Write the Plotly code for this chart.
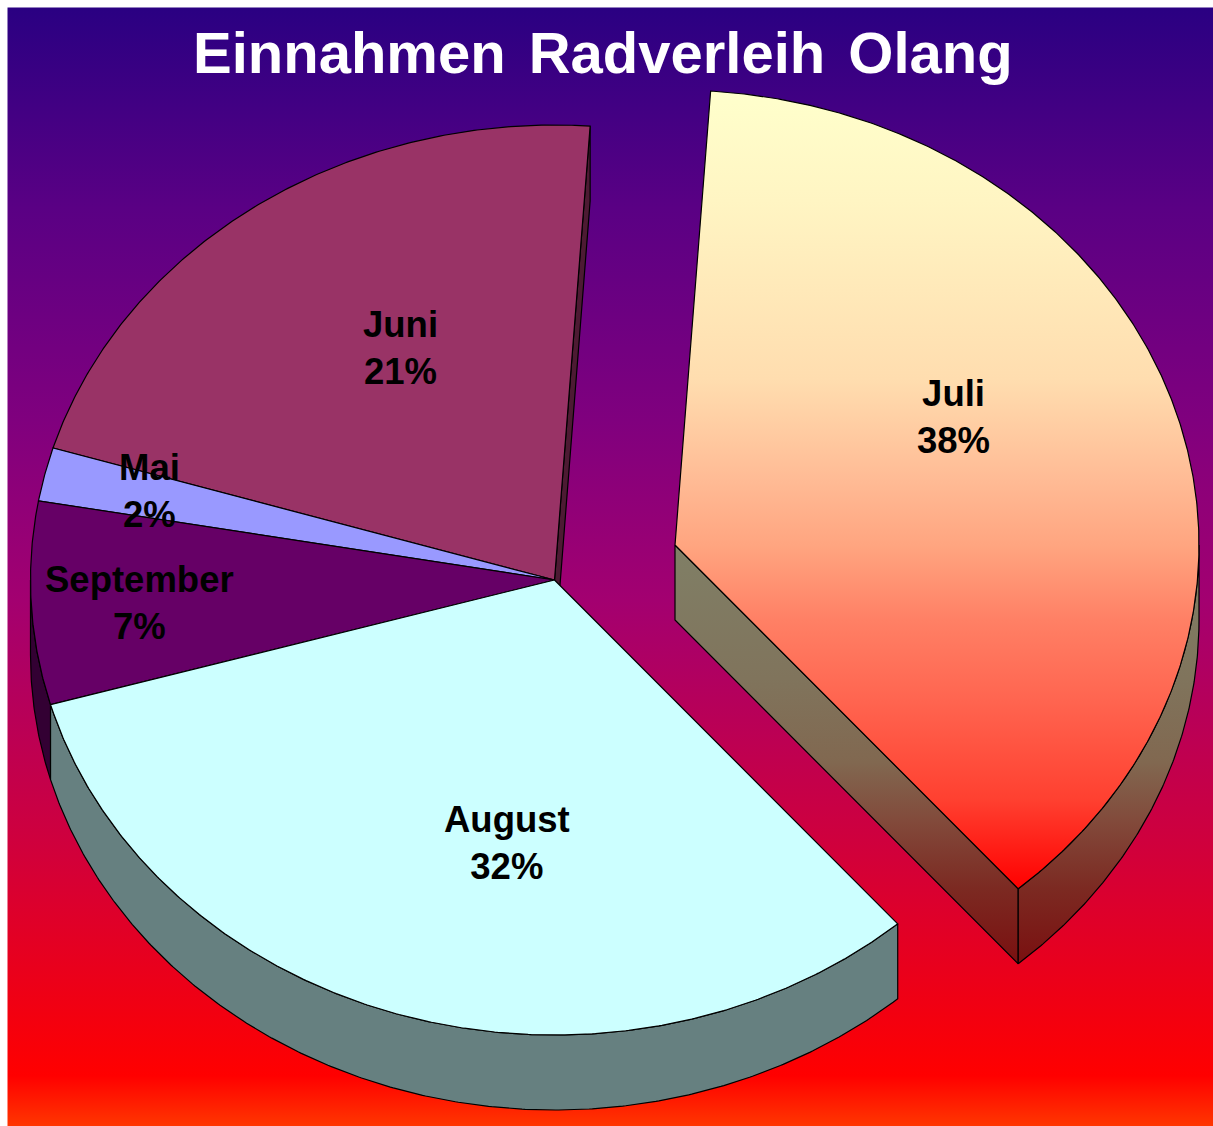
import numpy as np
import plotly.graph_objects as go

# Data
months = ["Juli", "August", "September", "Mai", "Juni"]
shares = [37.55, 31.95, 7.2, 1.9, 21.4]
title_words = ["Einnahmen", "Radverleih", "Olang"]

# Styles / layout
W, H = 1213, 1126
top_colors = ["#FFFFCC", "#CCFFFF", "#660066", "#9999FF", "#993366"]
wall_colors = ["#806F66", "#668080", "#330033", "#4D4D80", "#4D1A33"]
START = 3.9
RX, RY, DEPTH = 524, 455, 75
CENTER = (554.5, 580)
JULI_CENTER = (675, 545)
label_pos = [(953, 417), (507, 843), (139, 603), (149, 491), (400, 348)]
bg_scale = [[0.0, "#2A0082"], [0.18, "#5A0084"], [0.37, "#80007E"], [0.53, "#A30070"],
            [0.75, "#D0003C"], [0.955, "#FF0000"], [1.0, "#FF3600"]]
juli_scale = [[0.0, "#FFFFCC"], [0.137, "#FFF5C3"], [0.362, "#FFDDAF"], [0.487, "#FFBB95"],
              [0.569, "#FFA580"], [0.663, "#FF8065"], [0.763, "#FF6550"], [0.888, "#FF4030"],
              [1.0, "#FF0000"]]
juli_wall_scale = [[0.0, "#807F66"], [0.32, "#80745C"], [0.52, "#816850"], [0.66, "#824A3B"],
                   [0.82, "#7C2A22"], [1.0, "#7A1010"]]


def arc(c, a0, a1, dy=0.0):
    t = np.radians(np.linspace(a0, a1, max(int(abs(a1 - a0) * 3), 2)))
    return c[0] + RX * np.sin(t), c[1] - RY * np.cos(t) + dy


def poly(fig, x, y, fill=None, grad=None):
    x = np.append(x, x[0])
    y = np.append(y, y[0])
    kw = dict(fillgradient=grad) if grad else dict(fillcolor=fill)
    fig.add_trace(go.Scatter(x=x, y=y, mode="lines", fill="toself",
                             line=dict(color="black", width=1.2),
                             hoverinfo="skip", showlegend=False, **kw))


def outer_wall(fig, c, a0, a1, fill=None, grad=None):
    x0, y0 = arc(c, a0, a1)
    x1, y1 = arc(c, a1, a0, DEPTH)
    poly(fig, np.r_[x0, x1], np.r_[y0, y1], fill, grad)


def edge_wall(fig, c, a, fill=None, grad=None):
    xr, yr = arc(c, a, a + 1e-6)
    xr, yr = xr[0], yr[0]
    poly(fig, np.array([c[0], xr, xr, c[0]]),
         np.array([c[1], yr, yr + DEPTH, c[1] + DEPTH]), fill, grad)


def sector(fig, c, a0, a1, fill=None, grad=None):
    xa, ya = arc(c, a0, a1)
    poly(fig, np.r_[c[0], xa], np.r_[c[1], ya], fill, grad)


angles = START + np.cumsum([0] + shares) / sum(shares) * 360
fig = go.Figure()

# background
fig.add_trace(go.Scatter(
    x=[7.5, W, W, 7.5, 7.5], y=[7.5, 7.5, H, H, 7.5], mode="lines", fill="toself",
    line=dict(width=0), hoverinfo="skip", showlegend=False,
    fillgradient=dict(type="vertical", colorscale=bg_scale, start=7.5, stop=H)))

# main pie walls (Juni cut face, then front rim)
edge_wall(fig, CENTER, angles[5], fill=wall_colors[4])
outer_wall(fig, CENTER, angles[2], 270, fill=wall_colors[2])
outer_wall(fig, CENTER, angles[1], angles[2], fill=wall_colors[1])
# main pie tops
for i in (4, 3, 2, 1):
    sector(fig, CENTER, angles[i], angles[i + 1], fill=top_colors[i])

# exploded Juli slice
jy0, jy1 = JULI_CENTER[1], CENTER[1] + 383
wall_grad = dict(type="vertical", start=jy0, stop=jy1, colorscale=juli_wall_scale)
edge_wall(fig, JULI_CENTER, angles[1], grad=wall_grad)
outer_wall(fig, JULI_CENTER, 90, angles[1], grad=wall_grad)
sector(fig, JULI_CENTER, angles[0], angles[1],
       grad=dict(type="vertical", start=91, stop=889, colorscale=juli_scale))

wide_space = '<span style="font-size:83px"> </span>'
annotations = [dict(x=602.5, y=44, text=wide_space.join(title_words), showarrow=False,
                    font=dict(family="Liberation Sans", size=58, color="white", weight=700),
                    xanchor="center", yanchor="middle")]
for m, s, (lx, ly) in zip(months, shares, label_pos):
    annotations.append(dict(x=lx, y=ly, text=f"{m}<br>{round(s)}%", showarrow=False,
                            font=dict(family="Liberation Sans", size=36.5, color="black", weight=700),
                            xanchor="center", yanchor="middle"))

fig.update_layout(
    width=W, height=H, margin=dict(l=0, r=0, t=0, b=0),
    paper_bgcolor="white", plot_bgcolor="white", showlegend=False,
    xaxis=dict(range=[0, W], visible=False, fixedrange=True),
    yaxis=dict(range=[H, 0], visible=False, fixedrange=True),
    annotations=annotations,
)
fig.write_html("out.html", config=dict(displayModeBar=False),
               post_script="document.body.style.margin='0';document.body.style.overflow='hidden';")
